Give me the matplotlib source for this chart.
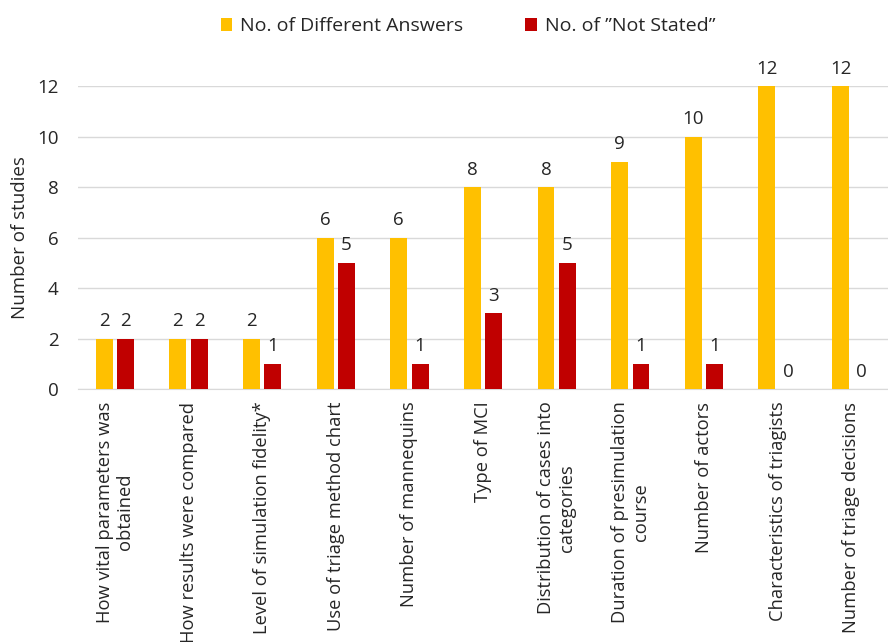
import numpy as np
import matplotlib.pyplot as plt

plt.rcParams['font.family'] = ['Open Sans', 'DejaVu Sans']

categories = [
    "How vital parameters was\nobtained",
    "How results were compared",
    "Level of simulation fidelity*",
    "Use of triage method chart",
    "Number of mannequins",
    "Type of MCI",
    "Distribution of cases into\ncategories",
    "Duration of presimulation\ncourse",
    "Number of actors",
    "Characteristics of triagists",
    "Number of triage decisions",
]
different_answers = [2, 2, 2, 6, 6, 8, 8, 9, 10, 12, 12]
not_stated = [2, 2, 1, 5, 1, 3, 5, 1, 1, 0, 0]

YELLOW = "#FFC000"
RED = "#C00000"


def plot_chart():
    fig = plt.figure(figsize=(8.88, 6.42), dpi=100)
    ax = fig.add_axes([0.088, 0.394, 0.912, 0.472])

    x = np.arange(len(categories))
    w = 0.23
    b1 = ax.bar(x - 0.145, different_answers, w, color=YELLOW,
                label="No. of Different Answers", zorder=3)
    b2 = ax.bar(x + 0.145, not_stated, w, color=RED,
                label="No. of \u201dNot Stated\u201d", zorder=3)
    ax.bar_label(b1, padding=6, fontsize=13.5, color="#262626", clip_on=False)
    ax.bar_label(b2, padding=6, fontsize=13.5, color="#262626", clip_on=False)

    ax.set_xlim(-0.5, len(categories) - 0.5)
    ax.set_ylim(0, 12)
    ax.set_yticks(range(0, 13, 2))
    ax.grid(axis="y", color="#D9D9D9", linewidth=1, zorder=0)
    for s in ["top", "right", "left"]:
        ax.spines[s].set_visible(False)
    ax.spines["bottom"].set_color("#D9D9D9")
    ax.tick_params(axis="y", length=0, labelsize=13.5, colors="#262626", pad=14)
    ax.tick_params(axis="x", length=0, labelsize=13.2, colors="#262626", pad=9)
    ax.set_xticks(x)
    ax.set_xticklabels(categories, rotation=90, ha="center", va="top",
                       multialignment="center")
    ax.set_ylabel("Number of studies", fontsize=13.5, color="#262626", labelpad=6)

    fig.legend(loc="upper center", bbox_to_anchor=(0.527, 1.0), ncol=2,
               frameon=False, fontsize=14, handlelength=0.6, handleheight=0.6,
               handletextpad=0.4, columnspacing=3.2, labelcolor="#262626")
    fig.savefig("out.png", dpi=100)


if __name__ == "__main__":
    plot_chart()
